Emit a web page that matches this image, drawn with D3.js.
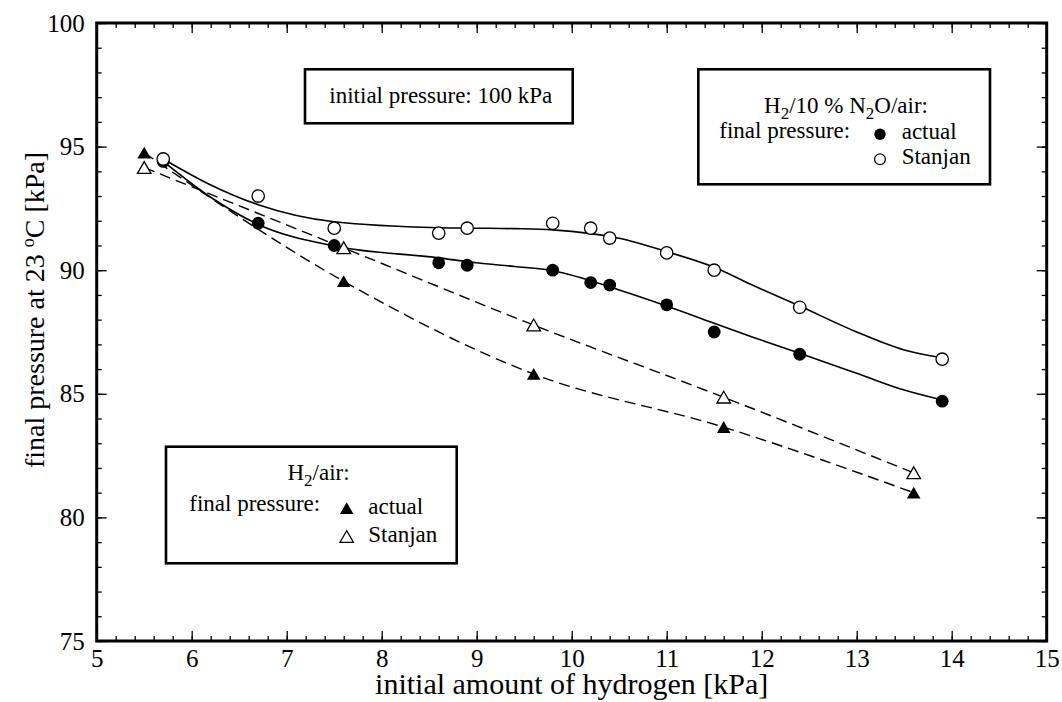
<!DOCTYPE html>
<html>
<head>
<meta charset="utf-8">
<script src="https://cdn.jsdelivr.net/npm/d3@7"></script>
<style>
	html, body { margin: 0; padding: 0; background: #fff; }
	svg text { font-family: "Liberation Serif", "Times New Roman", Times, Tinos, "DejaVu Serif", serif; fill: #000; }
</style>
</head>
<body>
<svg id="chart" width="1062" height="702"></svg>
<script>
// H2 / 10 % N2O / air mixtures (circles)
var n2oX = [5.7, 6.7, 7.5, 8.6, 8.9, 9.8, 10.2, 10.4, 11.0, 11.5, 12.4, 13.9];
var n2oActual = [94.4, 91.9, 91.0, 90.3, 90.2, 90.0, 89.5, 89.4, 88.6, 87.5, 86.6, 84.7];
var n2oStanjan = [94.5, 93.0, 91.7, 91.5, 91.7, 91.9, 91.7, 91.3, 90.7, 90.0, 88.5, 86.4];

// fitted curves through the circles
var fitX = [5.7, 6.2, 6.7, 7.5, 8.6, 9.0, 9.4, 9.8, 10.5, 11.0, 11.5, 11.9, 12.4, 13.0, 13.5, 13.9];
var fitActual = [94.4, 92.95, 91.85, 90.98, 90.5, 90.3, 90.15, 89.98, 89.2, 88.55, 87.85, 87.3, 86.64, 85.83, 85.15, 84.75];
var fitStanjan = [94.5, 93.45, 92.65, 91.96, 91.72, 91.7, 91.68, 91.63, 91.29, 90.75, 90.12, 89.4, 88.55, 87.5, 86.77, 86.46];

// H2 / air mixtures (triangles)
var airX = [5.5, 7.6, 9.6, 11.6, 13.6];
var airActual = [94.75, 89.55, 85.8, 83.65, 81.0];
var airStanjan = [94.15, 90.9, 87.78, 84.86, 81.8];

var xTicks = [5, 6, 7, 8, 9, 10, 11, 12, 13, 14, 15];
var yTicks = [75, 80, 85, 90, 95, 100];

(function(d3){
	'use strict';

	var FONT = '"Liberation Serif", "Times New Roman", Times, Tinos, "DejaVu Serif", serif';
	var margin = { top: 23, left: 96.7, right: 15.3, bot: 61 };
	var width = 1062 - margin.left - margin.right;
	var height = 702 - margin.top - margin.bot;

	var svg = d3.select('#chart');
	var g = svg.append('g').attr('transform', 'translate(' + margin.left + ',' + margin.top + ')');

	var xScale = d3.scaleLinear().domain([5, 15]).range([0, width]);
	var yScale = d3.scaleLinear().domain([75, 100]).range([height, 0]);

	var xMinor = d3.range(5, 15.001, 0.2);
	var yMinor = d3.range(75, 100.001, 1);

	var triangle = d3.symbol().type(d3.symbolTriangle).size(80);
	var triShift = 1.8;

	drawAxes();
	drawLines();
	drawMarkers();
	drawLegends();

	function styleAxis(sel){
		sel.attr('font-family', FONT);
		sel.select('.domain').remove();
		sel.selectAll('line').attr('stroke', '#000').attr('stroke-width', 1.3);
		sel.selectAll('text').attr('font-size', 25).attr('font-family', FONT);
	}

	function drawAxes(){
		g.append('g').attr('transform', 'translate(0,' + height + ')')
			.call(d3.axisBottom(xScale).tickValues(xMinor).tickSize(-5).tickFormat(''))
			.call(styleAxis);
		g.append('g').attr('transform', 'translate(0,' + height + ')')
			.call(d3.axisBottom(xScale).tickValues(xTicks).tickSize(-10).tickPadding(8).tickFormat(d3.format('d')))
			.call(styleAxis);
		g.append('g')
			.call(d3.axisTop(xScale).tickValues(xMinor).tickSize(-5).tickFormat(''))
			.call(styleAxis);
		g.append('g')
			.call(d3.axisTop(xScale).tickValues(xTicks).tickSize(-10).tickFormat(''))
			.call(styleAxis);

		g.append('g')
			.call(d3.axisLeft(yScale).tickValues(yMinor).tickSize(-5).tickFormat(''))
			.call(styleAxis);
		g.append('g')
			.call(d3.axisLeft(yScale).tickValues(yTicks).tickSize(-10).tickPadding(12).tickFormat(d3.format('d')))
			.call(styleAxis);
		g.append('g').attr('transform', 'translate(' + width + ',0)')
			.call(d3.axisRight(yScale).tickValues(yMinor).tickSize(-5).tickFormat(''))
			.call(styleAxis);
		g.append('g').attr('transform', 'translate(' + width + ',0)')
			.call(d3.axisRight(yScale).tickValues(yTicks).tickSize(-10).tickFormat(''))
			.call(styleAxis);

		g.append('rect')
			.attr('width', width).attr('height', height)
			.attr('fill', 'none').attr('stroke', '#000').attr('stroke-width', 3);

		// axis titles
		g.append('text')
			.attr('x', width / 2).attr('y', height + 53)
			.attr('text-anchor', 'middle').attr('font-size', 30)
			.attr('font-family', FONT)
			.text('initial amount of hydrogen [kPa]');

		var yt = svg.append('text')
			.attr('transform', 'translate(44,310) rotate(-90)')
			.attr('text-anchor', 'middle').attr('font-size', 28)
			.attr('font-family', FONT);
		yt.append('tspan').text('final pressure at 23 ');
		yt.append('tspan').attr('font-size', 18).attr('dy', -10).text('o');
		yt.append('tspan').attr('dy', 10).text('C [kPa]');
	}

	function drawLines(){
		var line = d3.line()
			.x(function(d){ return xScale(d[0]); })
			.y(function(d){ return yScale(d[1]); })
			.curve(d3.curveMonotoneX);

		[fitActual, fitStanjan].forEach(function(vals){
			g.append('path')
				.datum(d3.zip(fitX, vals))
				.attr('d', line)
				.attr('fill', 'none').attr('stroke', '#000').attr('stroke-width', 1.6);
		});

		[airActual, airStanjan].forEach(function(vals){
			g.append('path')
				.datum(d3.zip(airX, vals))
				.attr('d', line)
				.attr('fill', 'none').attr('stroke', '#000').attr('stroke-width', 1.4)
				.attr('stroke-dasharray', '11,6');
		});
	}

	function drawMarkers(){
		g.selectAll('circle.n2o-stanjan')
			.data(d3.zip(n2oX, n2oStanjan)).enter()
			.append('circle').attr('class', 'n2o-stanjan')
			.attr('cx', function(d){ return xScale(d[0]); })
			.attr('cy', function(d){ return yScale(d[1]); })
			.attr('r', 6.2)
			.attr('fill', '#fff').attr('stroke', '#000').attr('stroke-width', 1.3);

		g.selectAll('circle.n2o-actual')
			.data(d3.zip(n2oX, n2oActual)).enter()
			.append('circle').attr('class', 'n2o-actual')
			.attr('cx', function(d){ return xScale(d[0]); })
			.attr('cy', function(d){ return yScale(d[1]); })
			.attr('r', 6.4)
			.attr('fill', '#000');

		// keep the first open circle on top, as in the original
		g.selectAll('circle.n2o-stanjan').filter(function(d, i){ return i === 0; }).raise();

		g.selectAll('path.air-stanjan')
			.data(d3.zip(airX, airStanjan)).enter()
			.append('path').attr('class', 'air-stanjan')
			.attr('d', triangle)
			.attr('transform', function(d){ return 'translate(' + xScale(d[0]) + ',' + (yScale(d[1]) + triShift) + ')'; })
			.attr('fill', '#fff').attr('stroke', '#000').attr('stroke-width', 1.3);

		g.selectAll('path.air-actual')
			.data(d3.zip(airX, airActual)).enter()
			.append('path').attr('class', 'air-actual')
			.attr('d', triangle)
			.attr('transform', function(d){ return 'translate(' + xScale(d[0]) + ',' + (yScale(d[1]) + triShift) + ')'; })
			.attr('fill', '#000');
	}

	function box(x0, y0, x1, y1){
		svg.append('rect')
			.attr('x', x0).attr('y', y0)
			.attr('width', x1 - x0).attr('height', y1 - y0)
			.attr('fill', '#fff').attr('stroke', '#000').attr('stroke-width', 2.6);
	}

	function label(x, y, anchor){
		return svg.append('text')
			.attr('x', x).attr('y', y)
			.attr('text-anchor', anchor || 'start')
			.attr('font-family', FONT)
			.attr('font-size', 23);
	}

	// text with subscripts: parts like ['H', '2', '/air:'], odd entries are subscripts
	function chemTitle(t, parts){
		var shift = 0;
		parts.forEach(function(p, i){
			var ts = t.append('tspan').text(p);
			if (i % 2 === 1) {
				ts.attr('font-size', 17).attr('dy', 6);
				shift = -6;
			} else if (shift) {
				ts.attr('dy', shift);
				shift = 0;
			}
		});
	}

	function drawLegends(){
		// initial pressure
		box(305, 69.3, 572.7, 123.3);
		label(440.8, 103.3, 'middle').text('initial pressure: 100 kPa');

		// H2/10 % N2O/air
		box(698.3, 69.3, 990, 184.3);
		chemTitle(label(846, 113.3, 'middle'), ['H', '2', '/10 % N', '2', 'O/air:']);
		label(719.3, 138.3).text('final pressure:');
		svg.append('circle').attr('cx', 880).attr('cy', 134.3).attr('r', 5.7).attr('fill', '#000');
		label(901.7, 139).text('actual');
		svg.append('circle').attr('cx', 880).attr('cy', 159.3).attr('r', 5.4)
			.attr('fill', '#fff').attr('stroke', '#000').attr('stroke-width', 1.2);
		label(901.7, 164.3).text('Stanjan');

		// H2/air
		box(166, 446.7, 456.7, 563.3);
		chemTitle(label(318.5, 480, 'middle'), ['H', '2', '/air:']);
		label(189.3, 510.7).text('final pressure:');
		svg.append('path').attr('d', triangle)
			.attr('transform', 'translate(346.7,' + (508.3 + triShift) + ')')
			.attr('fill', '#000');
		label(368.3, 514).text('actual');
		svg.append('path').attr('d', triangle)
			.attr('transform', 'translate(346.7,' + (536.7 + triShift) + ')')
			.attr('fill', '#fff').attr('stroke', '#000').attr('stroke-width', 1.2);
		label(368.3, 541.7).text('Stanjan');
	}

})(window.d3);
</script>
</body>
</html>
